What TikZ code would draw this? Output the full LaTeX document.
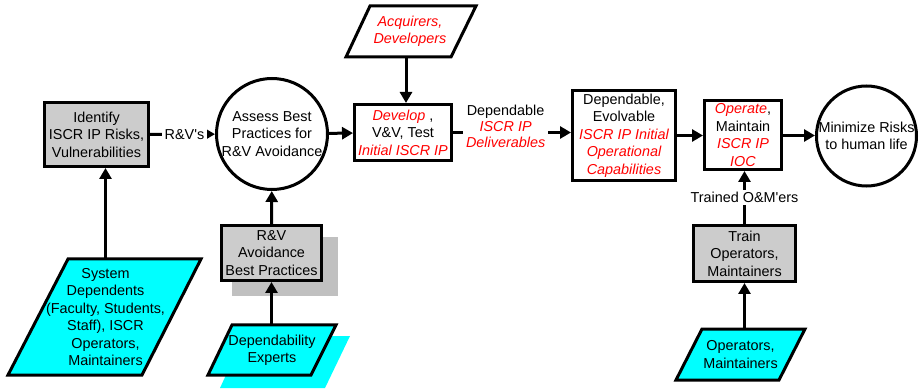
\documentclass[tikz,border=0pt]{standalone}
\usepackage{fontspec}
\setmainfont{Liberation Sans}[Ligatures=TeXOff]
\usetikzlibrary{arrows.meta,calc}
\definecolor{boxgray}{HTML}{CCCCCC}
\definecolor{shadowgray}{HTML}{C0C0C0}
\definecolor{cyanfill}{HTML}{00FFFF}
\definecolor{redtxt}{HTML}{FF0000}
\newcommand\redit[1]{{\color{redtxt}\itshape #1}}
\begin{document}
\begin{tikzpicture}[x=1pt,y=-1pt,
  every node/.style={font=\fontsize{14.4}{17.4}\selectfont, align=center, inner sep=0pt},
  graybox/.style 2 args={draw, line width=3pt, fill=boxgray, minimum width=#1, minimum height=#2},
  whitebox/.style 2 args={draw, line width=3pt, fill=white, minimum width=#1, minimum height=#2},
  circ/.style={draw, circle, line width=3pt, fill=white, minimum size=#1},
  paranode/.style 2 args={minimum width=#1, minimum height=#2},
  parashape/.style={draw, line width=3pt, line join=miter},
  arr/.style={line width=3pt, -{Triangle[length=11pt,width=12pt]}},
  lbl/.style={fill=white, inner xsep=3pt, inner ysep=2pt}
]
\useasboundingbox (0,0) rectangle (919,390);

% parallelogram shapes
\fill[cyanfill] (220,388) -- (325,388) -- (350,336) -- (244,336) -- cycle;
\filldraw[parashape, fill=cyanfill] (8,375) -- (142,375) -- (201,259) -- (68,259) -- cycle;
\filldraw[parashape, fill=cyanfill] (208,375) -- (311,375) -- (336,325) -- (232,325) -- cycle;
\filldraw[parashape, fill=white] (346,57) -- (451,57) -- (476,6) -- (370,6) -- cycle;
\filldraw[parashape, fill=cyanfill] (676,380) -- (779,380) -- (805,329) -- (702,329) -- cycle;
\fill[shadowgray] (232,237) rectangle (338,296);

% nodes
\node[paranode={134}{116}] (sysdep) at (105.5,317) {System\\Dependents\\(Faculty, Students,\\Staff), ISCR\\Operators,\\Maintainers};
\node[paranode={104}{50}] (depexp) at (272,350) {Dependability\\Experts};
\node[paranode={105}{51}] (acq) at (410,31.5) {\redit{Acquirers,}\\\redit{Developers}};
\node[paranode={104}{51}] (ops) at (740.5,354.5) {Operators,\\Maintainers};

\node[graybox={104}{64}] (identify) at (96.5,134.5) {Identify\\ISCR IP Risks,\\Vulnerabilities};
\node[circ=111] (assess) at (272,134) {Assess Best\\Practices for\\R\&V Avoidance};
\node[graybox={100}{55}] (rv) at (271.5,253) {R\&V\\Avoidance\\Best Practices};
\node[whitebox={97}{56}] (develop) at (403,132.5) {\redit{Develop} ,\\V\&V, Test\\\redit{Initial ISCR IP}};
\node[whitebox={103}{90}] (depev) at (624,135.5) {Dependable,\\Evolvable\\\redit{ISCR IP Initial}\\\redit{Operational}\\\redit{Capabilities}};
\node[whitebox={77}{69}] (operate) at (743,135) {\redit{Operate},\\Maintain\\\redit{ISCR IP}\\\redit{IOC}};
\node[circ=100] (minimize) at (866.5,136) {Minimize Risks\\to human life};
\node[graybox={102}{56}] (train) at (744.5,253.5) {Train\\Operators,\\Maintainers};

% connectors
\draw[arr] (sysdep.north) -- (sysdep.north |- identify.south);
\draw[arr] (identify) -- node[lbl, pos=0.53] {R\&V's} (assess);
\draw[arr] (depexp.north -| rv) -- (rv.south);
\draw[arr] (rv) -- (assess);
\draw[arr] (assess) -- (develop);
\draw[arr] ([xshift=-4]acq.south) -- ([xshift=-4]acq.south |- develop.north);
\draw[arr] (develop.east) -- node[lbl, pos=0.446, yshift=6.5, font=\fontsize{14.4}{16}\selectfont] {Dependable\\\redit{ISCR IP}\\\redit{Deliverables}} (develop.east -| depev.west);
\draw[arr] (depev.east) -- (depev.east -| operate.west);
\draw[arr] (operate.east |- depev.east) -- (minimize.west |- depev.east);
\draw[arr] (ops.north -| train) -- (train.south);
\draw[arr] (train.north) -- node[lbl, pos=0.5] {Trained O\&M'ers} (train.north |- operate.south);
\end{tikzpicture}
\end{document}
